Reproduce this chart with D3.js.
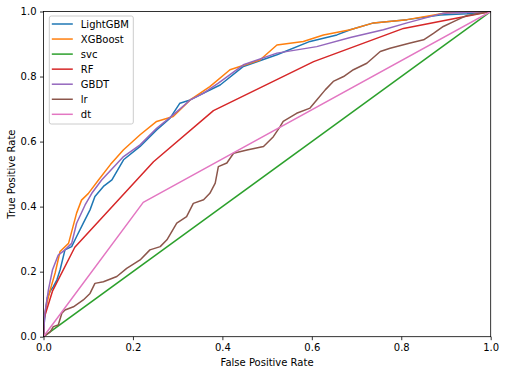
<!DOCTYPE html>
<html>
<head>
<meta charset="utf-8">
<script src="https://d3js.org/d3.v7.min.js"></script>
<style>
  body { margin: 0; background: #fff; }
  text { font-family: "DejaVu Sans", sans-serif; }
</style>
</head>
<body>
<div class="chart"></div>
<script>
// ROC curves, one array of [fpr, tpr] points per model

var lightgbm = [[0,0],[0.002,0.05],[0.0085,0.12],[0.015,0.14],[0.022,0.154],[0.03,0.175],[0.037,0.205],
  [0.048,0.267],[0.063,0.277],[0.074,0.308],[0.089,0.349],[0.104,0.39],[0.115,0.431],[0.134,0.462],
  [0.153,0.482],[0.179,0.544],[0.216,0.585],[0.253,0.636],[0.283,0.672],[0.305,0.718],[0.328,0.728],
  [0.365,0.754],[0.395,0.774],[0.447,0.831],[0.522,0.867],[0.596,0.908],[0.656,0.928],[0.686,0.944],
  [0.738,0.965],[0.813,0.975],[0.887,0.989],[0.947,0.993],[1,1]];

var xgboost = [[0,0],[0,0.04],[0.0056,0.092],[0.015,0.144],[0.026,0.196],[0.037,0.262],[0.056,0.287],
  [0.074,0.38],[0.085,0.42],[0.1,0.44],[0.123,0.482],[0.15,0.53],[0.179,0.575],[0.216,0.621],
  [0.253,0.662],[0.29,0.677],[0.328,0.728],[0.372,0.769],[0.417,0.821],[0.484,0.851],[0.522,0.897],
  [0.581,0.908],[0.626,0.928],[0.686,0.944],[0.738,0.965],[0.813,0.975],[0.902,0.996],[1,1]];

var svc = [[0,0],[1,1]];

var rf = [[0,0],[0.002,0.06],[0.02,0.14],[0.07,0.275],[0.246,0.538],[0.38,0.695],[0.604,0.846],
  [0.805,0.948],[1,1]];

var gbdt = [[0,0],[0.003,0.072],[0.011,0.144],[0.02,0.205],[0.033,0.251],[0.048,0.267],[0.063,0.287],
  [0.074,0.349],[0.093,0.405],[0.108,0.441],[0.13,0.482],[0.179,0.554],[0.216,0.59],[0.253,0.641],
  [0.29,0.682],[0.328,0.728],[0.358,0.749],[0.391,0.78],[0.447,0.836],[0.522,0.872],[0.611,0.892],
  [0.686,0.92],[0.76,0.944],[0.813,0.965],[0.894,0.995],[1,1]];

var lr = [[0,0],[0.015,0.015],[0.022,0.031],[0.033,0.036],[0.041,0.072],[0.048,0.082],[0.067,0.092],
  [0.089,0.113],[0.104,0.133],[0.115,0.164],[0.134,0.169],[0.164,0.185],[0.186,0.21],[0.216,0.236],
  [0.238,0.267],[0.261,0.277],[0.276,0.298],[0.298,0.349],[0.32,0.369],[0.335,0.41],[0.358,0.421],
  [0.372,0.441],[0.384,0.472],[0.391,0.523],[0.41,0.534],[0.425,0.564],[0.455,0.574],[0.492,0.585],
  [0.514,0.615],[0.529,0.646],[0.536,0.662],[0.566,0.687],[0.596,0.703],[0.611,0.728],[0.63,0.759],
  [0.648,0.785],[0.671,0.8],[0.693,0.821],[0.723,0.841],[0.753,0.877],[0.775,0.887],[0.82,0.903],
  [0.85,0.913],[0.872,0.933],[0.894,0.954],[0.917,0.969],[0.947,0.988],[1,1]];

var dt = [[0,0],[0.223,0.413],[1,1]];

var modelNames = ["LightGBM", "XGBoost", "svc", "RF", "GBDT", "lr", "dt"];
var modelCurves = [lightgbm, xgboost, svc, rf, gbdt, lr, dt];
var modelColors = ["#1f77b4", "#ff7f0e", "#2ca02c", "#d62728", "#9467bd", "#8c564b", "#e377c2"];
var tickValues = [0, 0.2, 0.4, 0.6, 0.8, 1.0];

var svgWidth = 505;
var svgHeight = 375;

var margin = { top: 11.5, right: 14.3, bottom: 38.3, left: 43.5 };

var width = svgWidth - margin.left - margin.right;
var height = svgHeight - margin.top - margin.bottom;

var svg = d3.select(".chart")
  .append("svg")
  .attr("width", svgWidth)
  .attr("height", svgHeight);

var chartGroup = svg.append("g")
  .attr("transform", `translate(${margin.left}, ${margin.top})`);

var xScale = d3.scaleLinear().domain([0, 1]).range([0, width]);
var yScale = d3.scaleLinear().domain([0, 1]).range([height, 0]);

// clip lines to the axes box
chartGroup.append("clipPath")
  .attr("id", "clip")
  .append("rect")
  .attr("width", width)
  .attr("height", height);

var line = d3.line()
  .x(d => xScale(d[0]))
  .y(d => yScale(d[1]));

chartGroup.append("g")
  .attr("clip-path", "url(#clip)")
  .selectAll("path")
  .data(modelCurves)
  .enter()
  .append("path")
  .attr("d", line)
  .attr("fill", "none")
  .attr("stroke", (d, i) => modelColors[i])
  .attr("stroke-width", 1.5)
  .attr("stroke-linejoin", "round")
  .attr("stroke-linecap", "square");

// axes
var bottomAxis = d3.axisBottom(xScale).tickValues(tickValues).tickFormat(d3.format(".1f")).tickSize(3.5).tickPadding(3.5);
var leftAxis = d3.axisLeft(yScale).tickValues(tickValues).tickFormat(d3.format(".1f")).tickSize(3.5).tickPadding(3.5);

var xAxis = chartGroup.append("g")
  .attr("transform", `translate(0, ${height})`)
  .call(bottomAxis);

var yAxis = chartGroup.append("g")
  .call(leftAxis);

[xAxis, yAxis].forEach(function (ax) {
  ax.select(".domain").remove();
  ax.selectAll("line").attr("stroke", "#000").attr("stroke-width", 0.8);
  ax.selectAll("text").attr("font-size", 10).attr("fill", "#000")
    .attr("font-family", "DejaVu Sans, sans-serif");
});

// frame
chartGroup.append("rect")
  .attr("width", width)
  .attr("height", height)
  .attr("fill", "none")
  .attr("stroke", "#000")
  .attr("stroke-width", 0.8);

// axis labels
chartGroup.append("text")
  .attr("x", width / 2)
  .attr("y", height + 29)
  .attr("text-anchor", "middle")
  .attr("font-size", 10)
  .text("False Positive Rate");

chartGroup.append("text")
  .attr("transform", "rotate(-90)")
  .attr("x", -height / 2)
  .attr("y", -29)
  .attr("text-anchor", "middle")
  .attr("font-size", 10)
  .text("True Positive Rate");

// legend
var legend = chartGroup.append("g")
  .attr("transform", "translate(5.8, 4.5)");

legend.append("rect")
  .attr("width", 84)
  .attr("height", 108)
  .attr("rx", 2)
  .attr("fill", "#fff")
  .attr("fill-opacity", 0.8)
  .attr("stroke", "#ccc")
  .attr("stroke-width", 1);

var legendRows = legend.selectAll(".row")
  .data(modelNames)
  .enter()
  .append("g")
  .attr("class", "row")
  .attr("transform", (d, i) => `translate(0, ${8 + i * 15.05})`);

legendRows.append("line")
  .attr("x1", 2.5)
  .attr("x2", 23.5)
  .attr("stroke", (d, i) => modelColors[i])
  .attr("stroke-width", 1.5);

legendRows.append("text")
  .attr("x", 31.5)
  .attr("dy", "0.35em")
  .attr("font-size", 10)
  .text(d => d);
</script>
</body>
</html>
